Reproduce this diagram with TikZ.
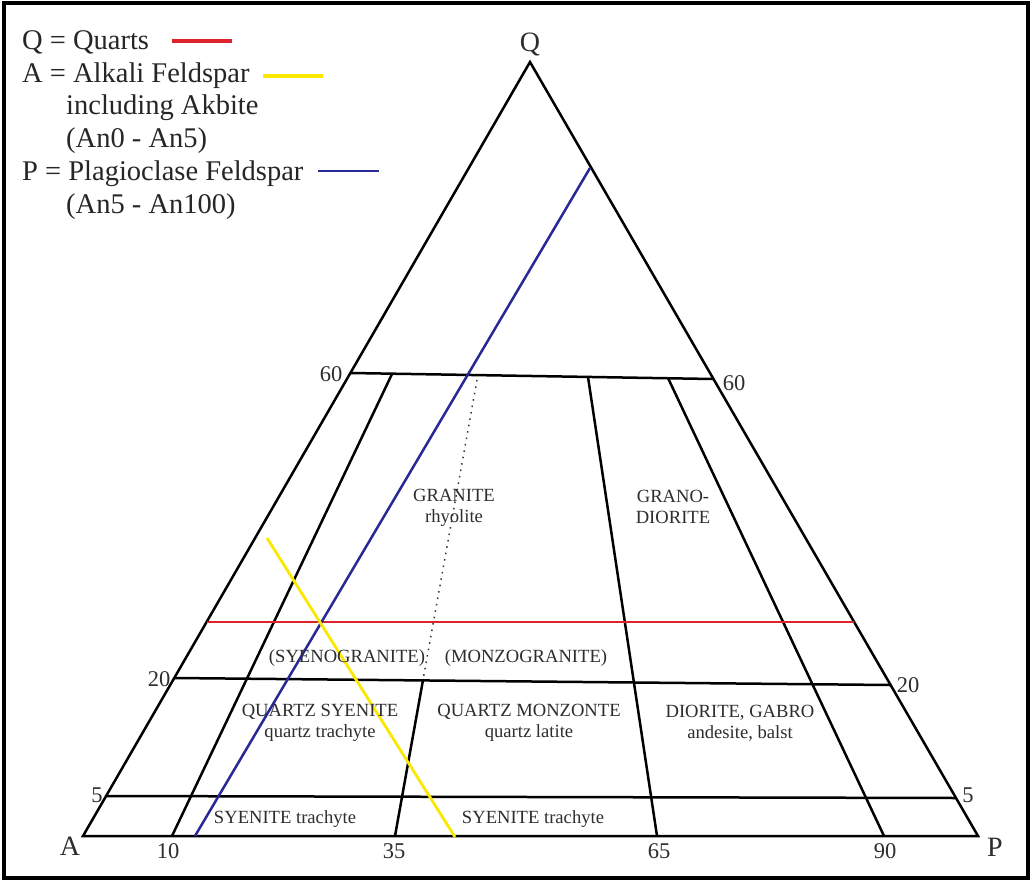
\documentclass[tikz,border=0pt]{standalone}
\usepackage{fontspec}
\setmainfont{Liberation Serif}
\definecolor{qred}{RGB}{222,35,45}
\definecolor{ayel}{RGB}{250,232,0}
\definecolor{pblue}{RGB}{40,40,150}
\definecolor{txt}{RGB}{45,45,45}
\begin{document}
\begin{tikzpicture}[x=1pt,y=-1pt,
  edge/.style={line width=2.5pt,line join=miter},
  fieldlab/.style={font=\fontsize{18.6}{21}\selectfont,text=txt,align=center,inner sep=0pt},
  numlab/.style={font=\fontsize{22.5}{24}\selectfont,text=txt,inner sep=0pt,anchor=base},
  cornerlab/.style={font=\fontsize{28}{30}\selectfont,text=txt,inner sep=0pt,anchor=base},
  legtext/.style={font=\fontsize{28.5}{30}\selectfont,text=black!85,inner sep=0pt,anchor=base west},
  qline/.style={qred,line width=2.5pt},
  aline/.style={ayel,line width=2.8pt},
  pline/.style={pblue,line width=2.5pt}]
\useasboundingbox (0,0) rectangle (1033,883);
\fill[white] (0,0) rectangle (1033,883);
\draw[line width=4pt] (4,3) rectangle (1027.5,878);

% corners
\coordinate (A) at (83,836);
\coordinate (Q) at (530,62);
\coordinate (P) at (978,836);
% boundary lines
\coordinate (L60) at (351,373);
\coordinate (R60) at (713,379);
\coordinate (L20) at (175,678);
\coordinate (R20) at (890,685);
\coordinate (L5) at (106,796);
\coordinate (R5) at (956,798);
% field lines
\coordinate (t10) at (392,374);
\coordinate (b10) at (172,836);
\coordinate (t35) at (477,380);
\coordinate (m35) at (423,680);
\coordinate (b35) at (395,836);
\coordinate (t65) at (588,377);
\coordinate (b65) at (657,836);
\coordinate (t90) at (668,378);
\coordinate (b90) at (884,836);
% coloured lines
\coordinate (qa) at (207,622);
\coordinate (qb) at (854,622);
\coordinate (pa) at (195,836);
\coordinate (pb) at (590,168);
\coordinate (ya) at (267,538);
\coordinate (yb) at (455,837);

\draw[edge] (A) -- (Q) -- (P) -- cycle;
\draw[edge] (L60) -- (R60);
\draw[edge] (L20) -- (R20);
\draw[edge] (L5) -- (R5);
\draw[edge] (t10) -- (b10);
\draw[edge] (m35) -- (b35);
\draw[line width=1.5pt,dash pattern=on 1.5pt off 5pt,black!80] (t35) -- (m35);
\draw[edge] (t65) -- (b65);
\draw[edge] (t90) -- (b90);

\draw[qline] (qa) -- (qb);
\draw[pline] (pa) -- (pb);
\draw[aline] (ya) -- (yb);

% corner and scale labels
\node[cornerlab] (labQ) at (530,52) {Q};
\node[cornerlab] (labA) at (70,855) {A};
\node[cornerlab] (labP) at (995,856) {P};
\node[numlab] (n60l) at (331,381) {60};
\node[numlab] (n60r) at (734,390) {60};
\node[numlab] (n20l) at (159,686) {20};
\node[numlab] (n20r) at (908,692) {20};
\node[numlab] (n5l) at (97,802) {5};
\node[numlab] (n5r) at (968,802) {5};
\node[numlab] (n10) at (168,858) {10};
\node[numlab] (n35) at (394,858) {35};
\node[numlab] (n65) at (659,858) {65};
\node[numlab] (n90) at (885,858) {90};

% field labels
\node[fieldlab,anchor=base] (granite) at (454,522) {GRANITE\\rhyolite};
\node[fieldlab,anchor=base] (grano) at (673,523) {GRANO-\\DIORITE};
\node[fieldlab,anchor=base] (syeno) at (347,662) {(SYENOGRANITE)};
\node[fieldlab,anchor=base] (monzo) at (526,662) {(MONZOGRANITE)};
\node[fieldlab,anchor=base] (qsy) at (320,737) {QUARTZ SYENITE\\quartz trachyte};
\node[fieldlab,anchor=base] (qmo) at (529,737) {QUARTZ MONZONTE\\quartz latite};
\node[fieldlab,anchor=base] (dio) at (740,738) {DIORITE, GABRO\\andesite, balst};
\node[fieldlab,anchor=base] (sy1) at (285,823) {SYENITE trachyte};
\node[fieldlab,anchor=base] (sy2) at (533,823) {SYENITE trachyte};

% legend
\node[legtext] (leg1) at (22,49) {Q = Quarts};
\node[legtext] (leg2) at (22,82) {A = Alkali Feldspar};
\node[legtext] (leg3) at (66,114) {including Akbite};
\node[legtext] (leg4) at (66,147) {(An0 - An5)};
\node[legtext] (leg5) at (22,180) {P = Plagioclase Feldspar};
\node[legtext] (leg6) at (66,213) {(An5 - An100)};
\coordinate (lq1) at (172,41); \coordinate (lq2) at (232,41);
\coordinate (la1) at (263,76); \coordinate (la2) at (323,76);
\coordinate (lp1) at (318,171); \coordinate (lp2) at (379,171);
\draw[qred,line width=3.5pt] (lq1) -- (lq2);
\draw[ayel,line width=3.5pt] (la1) -- (la2);
\draw[pblue,line width=2.8pt] (lp1) -- (lp2);
\end{tikzpicture}
\end{document}
